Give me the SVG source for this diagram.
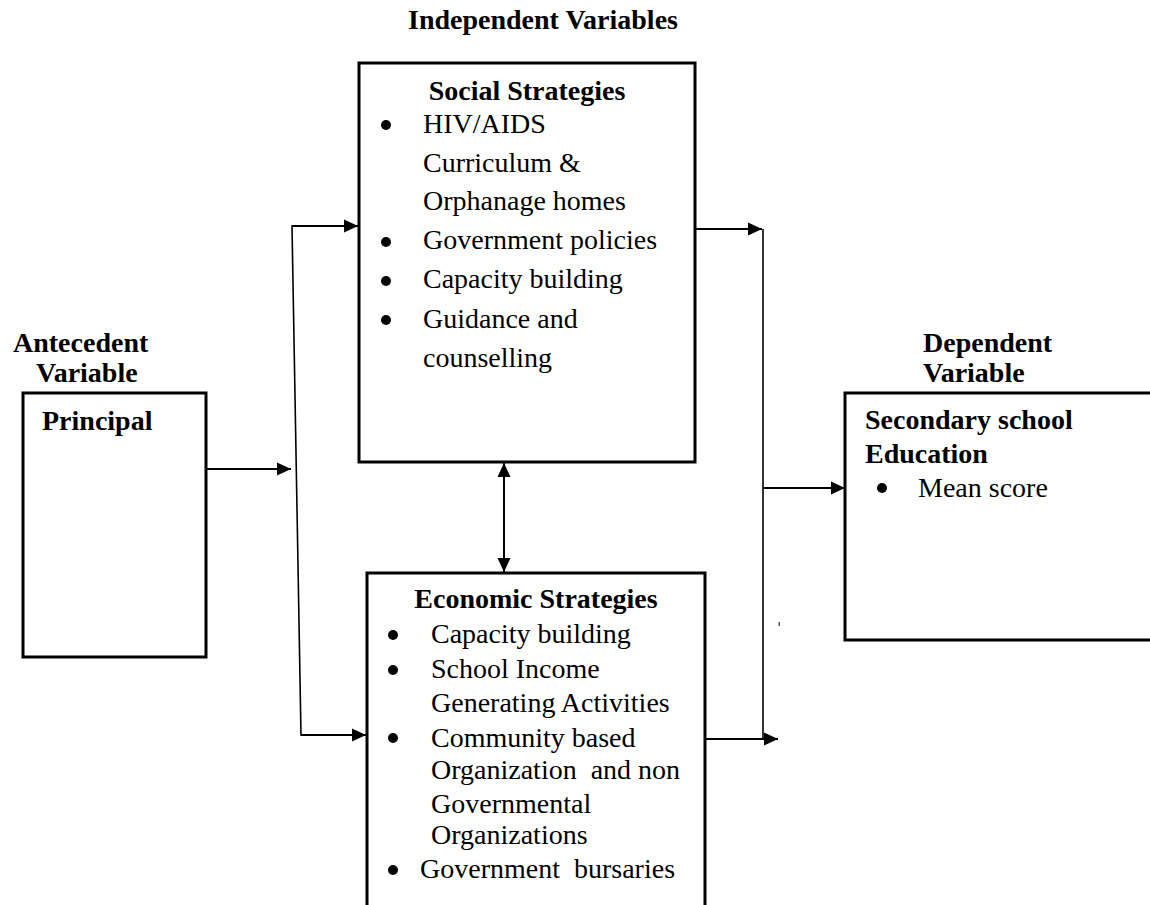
<svg xmlns="http://www.w3.org/2000/svg" width="1150" height="905" viewBox="0 0 1150 905">
  <style>
    .box { fill: #fff; stroke: #000; stroke-width: 3; }
    .t { font-family: "Liberation Serif", "Times New Roman", serif; font-size: 28px; fill: #000; }
    .b { font-weight: bold; }
    .pre { white-space: pre; }
    .conn { fill: none; stroke: #000; stroke-width: 2; }
    .thin { fill: none; stroke: #000; stroke-width: 1.6; }
    .dot { fill: #000; }
  </style>
  <defs>
    <marker id="arrow" viewBox="0 0 14 14" refX="14" refY="7" markerWidth="14" markerHeight="14" markerUnits="userSpaceOnUse" orient="auto-start-reverse">
      <path d="M0,0.5 L14,7 L0,13.5 Z" fill="#000"/>
    </marker>
  </defs>

  <rect width="1150" height="905" fill="#fff"/>

  <!-- Headings -->
  <text class="t b" x="408" y="29">Independent Variables</text>
  <text class="t b" x="13" y="352">Antecedent</text>
  <text class="t b" x="36" y="382">Variable</text>
  <text class="t b" x="923" y="352">Dependent</text>
  <text class="t b" x="923" y="382">Variable</text>

  <!-- Antecedent node -->
  <g id="principal">
    <rect class="box" x="23" y="393" width="183" height="264"/>
    <text class="t b" x="42" y="430">Principal</text>
  </g>

  <!-- Social strategies node -->
  <g id="social-strategies">
    <rect class="box" x="359" y="63" width="336" height="399"/>
    <text class="t b" x="527" y="100" text-anchor="middle">Social Strategies</text>
    <circle class="dot" cx="386" cy="125" r="5"/>
    <circle class="dot" cx="386" cy="242" r="5"/>
    <circle class="dot" cx="386" cy="281" r="5"/>
    <circle class="dot" cx="386" cy="320" r="5"/>
    <text class="t" x="423" y="133">HIV/AIDS</text>
    <text class="t" x="423" y="172">Curriculum &amp;</text>
    <text class="t" x="423" y="210">Orphanage homes</text>
    <text class="t" x="423" y="249">Government policies</text>
    <text class="t" x="423" y="288">Capacity building</text>
    <text class="t" x="423" y="328">Guidance and</text>
    <text class="t" x="423" y="367">counselling</text>
  </g>

  <!-- Economic strategies node -->
  <g id="economic-strategies">
    <rect class="box" x="367" y="573" width="338" height="350"/>
    <text class="t b" x="536" y="608" text-anchor="middle">Economic Strategies</text>
    <circle class="dot" cx="393" cy="635" r="5"/>
    <circle class="dot" cx="393" cy="670" r="5"/>
    <circle class="dot" cx="393" cy="738" r="5"/>
    <circle class="dot" cx="393" cy="870" r="5"/>
    <text class="t" x="431" y="643">Capacity building</text>
    <text class="t" x="431" y="678">School Income</text>
    <text class="t" x="431" y="712">Generating Activities</text>
    <text class="t" x="431" y="747">Community based</text>
    <text class="t pre" x="431" y="779">Organization  and non</text>
    <text class="t" x="431" y="813">Governmental</text>
    <text class="t" x="431" y="844">Organizations</text>
    <text class="t pre" x="420" y="878">Government  bursaries</text>
  </g>

  <!-- Dependent node -->
  <g id="secondary-education">
    <rect class="box" x="845" y="393" width="320" height="247"/>
    <text class="t b" x="865" y="429">Secondary school</text>
    <text class="t b" x="865" y="463">Education</text>
    <circle class="dot" cx="882" cy="488" r="5"/>
    <text class="t" x="918" y="497">Mean score</text>
  </g>

  <!-- Connectors -->
  <g id="connectors">
    <!-- principal to the split line -->
    <line class="conn" x1="206" y1="469" x2="291" y2="469" marker-end="url(#arrow)"/>
    <!-- split line feeding both strategy boxes -->
    <polyline class="thin" points="345,226 292,226 301,735 352,735"/>
    <line class="conn" x1="292" y1="226" x2="358" y2="226" marker-end="url(#arrow)"/>
    <line class="conn" x1="301" y1="735" x2="366" y2="735" marker-end="url(#arrow)"/>
    <!-- two-way link between strategy boxes -->
    <line class="conn" x1="504" y1="463" x2="504" y2="572" marker-start="url(#arrow)" marker-end="url(#arrow)"/>
    <!-- strategies to the joining line -->
    <line class="conn" x1="695" y1="229" x2="762" y2="229" marker-end="url(#arrow)"/>
    <line class="conn" x1="705" y1="739" x2="778" y2="739" marker-end="url(#arrow)"/>
    <line class="thin" x1="763" y1="229" x2="763" y2="739"/>
    <!-- joining line to the outcome box -->
    <line class="conn" x1="763" y1="488" x2="845" y2="488" marker-end="url(#arrow)"/>
  </g>

  <!-- small stray tick -->
  <rect x="778.5" y="622" width="1.5" height="4" fill="#555"/>
</svg>
